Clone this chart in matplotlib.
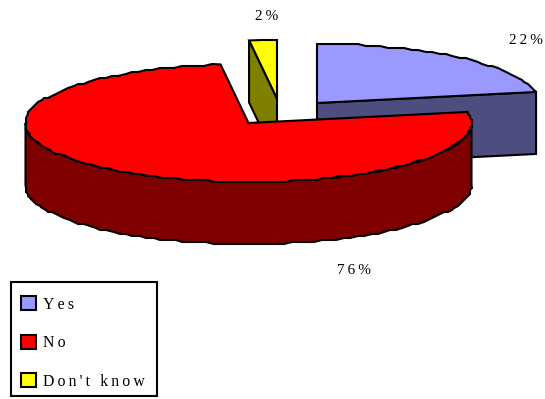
import numpy as np
import matplotlib
matplotlib.use('Agg')
import matplotlib.pyplot as plt
from matplotlib.patches import Patch, Polygon, Rectangle

# chart data
categories = ['Yes', 'No', "Don't know"]
shares = [22, 76, 2]
top_colors = ['#9999FF', '#FF0000', '#FFFF00']
side_colors = ['#4D4D80', '#800000', '#808000']

# pie geometry in pixels
A = 223
B = 59
DEPTH = 62
centers = [(317, 103), (248.5, 123), (277, 99)]
label_pos = [(526, 40), (354, 270), (267, 17)]

plt.rcParams['font.family'] = ['Liberation Serif', 'DejaVu Sans']

fig = plt.figure(figsize=(5.45, 3.99), dpi=100)
ax = fig.add_axes([0, 0, 1, 1])
ax.set_xlim(0, 545)
ax.set_ylim(399, 0)
ax.axis('off')


def spaced(s):
    return '\u2009'.join(s)


def arc(c, t0, t1):
    # outline of the ellipse, snapped a bit like the old chart's rough edge
    n = max(2, int(abs(t1 - t0) / 2))
    t = np.radians(np.linspace(t0, t1, n))
    x = c[0] + A * np.cos(t)
    y = c[1] - B * np.sin(t)
    x[1:-1] = np.round(x[1:-1] / 2) * 2
    y[1:-1] = np.round(y[1:-1] / 2) * 2
    return np.column_stack([x, y])


def draw(pts, color, z):
    ax.add_patch(Polygon(pts, closed=True, fc=color, ec='black', lw=1.5,
                         joinstyle='miter', zorder=z))


# slice angles, clockwise from the top
ends = 90 - np.cumsum(shares) * 3.6
starts = np.r_[90, ends[:-1]]

# Yes: cut face, then top
yes_c = np.array(centers[0])
yes_arc = arc(yes_c, starts[0], ends[0])
corner = yes_arc[-1]
draw([yes_c, corner, corner + [0, DEPTH], yes_c + [0, DEPTH]], side_colors[0], 1)
draw(np.vstack([yes_c, yes_arc]), top_colors[0], 2)

# Don't know: top, then cut face
dk_c = np.array(centers[2])
dk_arc = arc(dk_c, starts[2], ends[2])
corner = dk_arc[0]
draw(np.vstack([dk_c, dk_arc]), top_colors[2], 1)
draw([dk_c, corner, corner + [0, DEPTH], dk_c + [0, DEPTH]], side_colors[2], 2)

# No: rim, then top
no_c = np.array(centers[1])
front = arc(no_c, 0, -180)
draw(np.vstack([front, (front + [0, DEPTH])[::-1]]), side_colors[1], 3)
draw(np.vstack([no_c, arc(no_c, starts[1], ends[1])]), top_colors[1], 4)

for share, (x, y) in zip(shares, label_pos):
    ax.text(x, y, spaced(f'{share}%'), fontsize=11, ha='center', va='center',
            color='black', zorder=6)

# legend box is drawn apart so the entries can sit a little low in it
ax.add_patch(Rectangle((11, 282), 146, 114, fc='white', ec='black', lw=1.5, zorder=5))
handles = [Patch(fc=c, ec='black', lw=1.5) for c in top_colors]
leg = ax.legend(handles, [spaced(c) for c in categories],
                loc='lower left', bbox_to_anchor=(11 / 545, 0),
                borderaxespad=0, frameon=False, prop={'size': 11.4},
                handlelength=1.0, handleheight=1.0, handletextpad=0.45,
                labelspacing=1.38, borderpad=0.6)
leg.set_zorder(6)

fig.savefig('out.png', dpi=100)
